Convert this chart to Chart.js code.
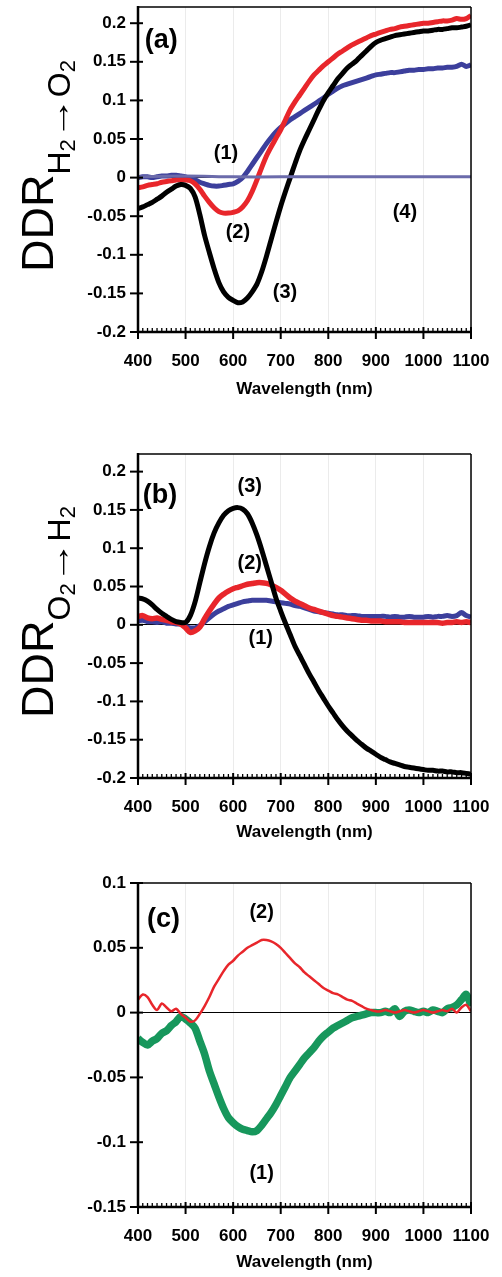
<!DOCTYPE html>
<html>
<head>
<meta charset="utf-8">
<script src="https://cdn.jsdelivr.net/npm/chart.js@4.4.0/dist/chart.umd.min.js"></script>
<style>
  body { margin: 0; background: #fff; width: 502px; height: 1277px; position: relative; overflow: hidden; }
  canvas { position: absolute; left: 0; }
</style>
</head>
<body>
<canvas id="chartA" width="502" height="420" style="top:0"></canvas>
<canvas id="chartB" width="502" height="440" style="top:420px"></canvas>
<canvas id="chartC" width="502" height="417" style="top:860px"></canvas>
<script>
// wavelength grid (nm), 10 nm step
const wavelength = [
  400, 410, 420, 430, 440, 450, 460, 470, 480, 490,
  500, 510, 520, 530, 540, 550, 560, 570, 580, 590,
  600, 610, 620, 630, 640, 650, 660, 670, 680, 690,
  700, 710, 720, 730, 740, 750, 760, 770, 780, 790,
  800, 810, 820, 830, 840, 850, 860, 870, 880, 890,
  900, 910, 920, 930, 940, 950, 960, 970, 980, 990,
  1000, 1010, 1020, 1030, 1040, 1050, 1060, 1070, 1080, 1090,
  1100
]

const xTicks = [400, 500, 600, 700, 800, 900, 1000, 1100]
const yTicksAB = [-0.2, -0.15, -0.1, -0.05, 0, 0.05, 0.1, 0.15, 0.2]
const yTicksC = [-0.15, -0.1, -0.05, 0, 0.05, 0.1]

// ---- panel (a): DDR H2 -> O2 ----
const a1 = [
  0.000, 0.001, 0.001, 0.000, 0.001, 0.002, 0.002, 0.003, 0.003, 0.002,
  0.001, -0.001, -0.003, -0.006, -0.008, -0.010, -0.011, -0.011, -0.010, -0.009,
  -0.008, -0.005, 0.000, 0.008, 0.017, 0.026, 0.035, 0.044, 0.052, 0.059,
  0.065, 0.070, 0.075, 0.079, 0.083, 0.087, 0.091, 0.095, 0.099, 0.103,
  0.108, 0.112, 0.116, 0.119, 0.121, 0.123, 0.125, 0.127, 0.129, 0.131,
  0.133, 0.134, 0.135, 0.136, 0.136, 0.137, 0.138, 0.139, 0.139, 0.140,
  0.140, 0.141, 0.141, 0.142, 0.142, 0.143, 0.143, 0.144, 0.147, 0.144,
  0.146
]
const a2 = [
  -0.013, -0.012, -0.010, -0.009, -0.008, -0.006, -0.005, -0.004, -0.003, -0.003,
  -0.003, -0.004, -0.008, -0.015, -0.024, -0.032, -0.039, -0.044, -0.046, -0.046,
  -0.045, -0.043, -0.038, -0.030, -0.018, -0.003, 0.013, 0.028, 0.040, 0.051,
  0.062, 0.075, 0.088, 0.098, 0.107, 0.116, 0.125, 0.133, 0.139, 0.145,
  0.150, 0.155, 0.160, 0.164, 0.168, 0.172, 0.175, 0.178, 0.181, 0.184,
  0.186, 0.188, 0.190, 0.192, 0.193, 0.195, 0.196, 0.197, 0.198, 0.199,
  0.200, 0.200, 0.201, 0.202, 0.203, 0.203, 0.204, 0.206, 0.205, 0.206,
  0.210
]
const a3 = [
  -0.040, -0.038, -0.035, -0.032, -0.028, -0.024, -0.019, -0.015, -0.011, -0.009,
  -0.010, -0.014, -0.025, -0.048, -0.075, -0.097, -0.118, -0.136, -0.148, -0.155,
  -0.159, -0.162, -0.161, -0.156, -0.148, -0.138, -0.122, -0.102, -0.080, -0.058,
  -0.037, -0.018, 0.000, 0.018, 0.035, 0.049, 0.062, 0.075, 0.088, 0.100,
  0.110, 0.119, 0.128, 0.135, 0.142, 0.147, 0.152, 0.158, 0.164, 0.170,
  0.175, 0.178, 0.180, 0.182, 0.184, 0.185, 0.186, 0.187, 0.188, 0.189,
  0.190, 0.190, 0.191, 0.192, 0.192, 0.193, 0.194, 0.194, 0.195, 0.196,
  0.198
]
// curve (4) is flat on zero
const a4Wavelength = [400, 500, 600, 700, 800, 900, 1000, 1100]
const a4 = [0.001, 0.002, 0.001, 0.001, 0.001, 0.001, 0.001, 0.001]

// ---- panel (b): DDR O2 -> H2 ----
const b1 = [
  0.005, 0.006, 0.004, 0.004, 0.003, 0.004, 0.002, 0.002, 0.001, 0.001,
  -0.002, -0.004, -0.004, -0.001, 0.004, 0.009, 0.014, 0.018, 0.021, 0.024,
  0.026, 0.028, 0.030, 0.031, 0.032, 0.032, 0.032, 0.032, 0.031, 0.030,
  0.029, 0.028, 0.027, 0.025, 0.024, 0.022, 0.020, 0.018, 0.017, 0.016,
  0.015, 0.014, 0.013, 0.013, 0.012, 0.012, 0.012, 0.011, 0.011, 0.011,
  0.011, 0.011, 0.011, 0.010, 0.011, 0.010, 0.010, 0.011, 0.010, 0.010,
  0.010, 0.011, 0.010, 0.011, 0.011, 0.012, 0.011, 0.012, 0.016, 0.012,
  0.010
]
const b2 = [
  0.011, 0.012, 0.009, 0.008, 0.009, 0.007, 0.006, 0.004, 0.003, 0.001,
  -0.004, -0.010, -0.008, -0.003, 0.008, 0.018, 0.027, 0.035, 0.040, 0.044,
  0.047, 0.049, 0.051, 0.053, 0.054, 0.055, 0.055, 0.054, 0.052, 0.049,
  0.045, 0.040, 0.035, 0.031, 0.028, 0.025, 0.022, 0.020, 0.018, 0.016,
  0.014, 0.012, 0.011, 0.010, 0.009, 0.008, 0.007, 0.006, 0.006, 0.005,
  0.005, 0.005, 0.004, 0.004, 0.004, 0.004, 0.003, 0.003, 0.003, 0.003,
  0.003, 0.003, 0.003, 0.003, 0.002, 0.003, 0.003, 0.004, 0.003, 0.004,
  0.003
]
const b3 = [
  0.035, 0.034, 0.031, 0.026, 0.020, 0.015, 0.011, 0.007, 0.004, 0.003,
  0.003, 0.012, 0.030, 0.055, 0.080, 0.102, 0.120, 0.133, 0.143, 0.149,
  0.152, 0.153, 0.151, 0.145, 0.133, 0.117, 0.098, 0.077, 0.056, 0.035,
  0.018, 0.002, -0.013, -0.028, -0.040, -0.052, -0.064, -0.075, -0.086, -0.096,
  -0.106, -0.115, -0.124, -0.132, -0.139, -0.145, -0.151, -0.156, -0.161, -0.165,
  -0.169, -0.173, -0.176, -0.179, -0.181, -0.183, -0.185, -0.186, -0.187, -0.188,
  -0.189, -0.190, -0.190, -0.191, -0.191, -0.192, -0.192, -0.193, -0.193, -0.194,
  -0.195
]

// ---- panel (c) ----
const c1 = [
  -0.020, -0.023, -0.025, -0.022, -0.020, -0.016, -0.014, -0.010, -0.007, -0.003,
  -0.005, -0.008, -0.012, -0.022, -0.032, -0.045, -0.055, -0.065, -0.074, -0.081,
  -0.085, -0.088, -0.090, -0.091, -0.092, -0.091, -0.087, -0.082, -0.077, -0.071,
  -0.064, -0.057, -0.050, -0.045, -0.040, -0.035, -0.031, -0.027, -0.022, -0.018,
  -0.015, -0.012, -0.010, -0.008, -0.006, -0.004, -0.003, -0.002, -0.001, 0.000,
  0.000, 0.000, 0.001, 0.000, 0.003, -0.003, 0.001, 0.002, 0.001, 0.000,
  0.001, 0.000, 0.002, 0.001, 0.000, 0.003, 0.004, 0.006, 0.010, 0.014,
  0.005
]
const c2 = [
  0.010, 0.014, 0.012, 0.006, 0.002, 0.007, 0.004, 0.001, 0.003, -0.001,
  -0.004, -0.007, -0.006, -0.001, 0.005, 0.012, 0.020, 0.026, 0.032, 0.037,
  0.040, 0.044, 0.047, 0.050, 0.052, 0.054, 0.056, 0.056, 0.055, 0.053,
  0.050, 0.046, 0.042, 0.038, 0.035, 0.031, 0.028, 0.025, 0.022, 0.019,
  0.017, 0.015, 0.014, 0.012, 0.010, 0.009, 0.007, 0.005, 0.003, 0.002,
  0.001, 0.001, 0.002, 0.001, 0.000, 0.001, 0.002, 0.001, 0.000, 0.001,
  0.002, 0.001, 0.000, 0.001, 0.002, 0.001, 0.003, 0.000, 0.004, 0.006,
  0.001
]

const RED = '#e8262b'
const BLUE = '#3c3f9c'
const SLATE = '#6b6bab'
const GREEN = '#17975c'

Chart.defaults.font.family = "'Liberation Sans', Arial, sans-serif"

function serie(xs, ys, color, width) {
  return {
    data: xs.map((w, i) => ({ x: w, y: ys[i] })),
    borderColor: color,
    borderWidth: width,
    pointRadius: 0,
    tension: 0.3,
    fill: false
  }
}

function fmt(v) {
  return String(Math.round(v * 100) / 100)
}

// frame, ticks, panel text and y title
const decor = {
  id: 'decor',
  afterDatasetsDraw(chart, args, opts) {
    const { ctx, chartArea: a, scales: { x, y } } = chart
    const line = (x1, y1, x2, y2) => { ctx.beginPath(); ctx.moveTo(x1, y1); ctx.lineTo(x2, y2); ctx.stroke() }
    ctx.save()
    ctx.strokeStyle = '#000'
    ctx.lineWidth = 1.5
    line(a.left, a.top, a.right, a.top)
    line(a.right, a.top, a.right, a.bottom)
    ctx.lineWidth = 2.5
    line(a.left, a.top - 1, a.left, a.bottom + 1)
    line(a.left - 1, a.bottom, a.right + 1, a.bottom)

    ctx.lineWidth = 2
    for (const v of opts.yTicks) {
      const py = y.getPixelForValue(v)
      line(a.left - 8, py, a.left + 5, py)
    }
    for (const v of xTicks) {
      const px = x.getPixelForValue(v)
      line(px, a.bottom - 5, px, a.bottom + 7)
    }
    ctx.lineWidth = 1.3
    for (let v = 410; v < 1100; v += 10) {
      if (v % 100 === 0) continue
      const px = x.getPixelForValue(v)
      line(px, a.bottom, px, a.bottom - 4)
    }

    // panel letter and curve numbers
    ctx.fillStyle = '#000'
    ctx.textBaseline = 'middle'
    ctx.font = "bold 27px 'Liberation Sans', Arial, sans-serif"
    ctx.textAlign = 'left'
    ctx.fillText(opts.panel.text, x.getPixelForValue(opts.panel.x), y.getPixelForValue(opts.panel.y))
    ctx.font = "bold 20px 'Liberation Sans', Arial, sans-serif"
    ctx.textAlign = 'center'
    for (const l of opts.labels) {
      ctx.fillText(l.text, x.getPixelForValue(l.x), y.getPixelForValue(l.y))
    }

    // rotated y title with subscripts
    if (opts.title) {
      ctx.save()
      ctx.translate(opts.title.base, opts.title.start)
      ctx.rotate(-Math.PI / 2)
      ctx.textAlign = 'left'
      ctx.textBaseline = 'alphabetic'
      let pos = 0
      for (const p of opts.title.parts) {
        ctx.font = p.size + "px 'Liberation Sans', Arial, sans-serif"
        const w = ctx.measureText(p.text).width
        const sx = p.len ? p.len / w : 1
        ctx.save()
        ctx.translate(pos, p.shift)
        ctx.scale(sx, 1)
        ctx.fillText(p.text, 0, 0)
        ctx.restore()
        pos += w * sx
      }
      ctx.restore()
    }
    ctx.restore()
  }
}

function makePanel(id, datasets, cfg) {
  return new Chart(document.getElementById(id), {
    type: 'line',
    data: { datasets: datasets },
    plugins: [decor],
    options: {
      responsive: false,
      animation: false,
      layout: { padding: { top: cfg.top, right: 31, left: 0, bottom: 0 } },
      plugins: {
        legend: { display: false },
        tooltip: { enabled: false },
        decor: { yTicks: cfg.yTicks, panel: cfg.panel, labels: cfg.labels, title: cfg.title }
      },
      scales: {
        x: {
          type: 'linear',
          min: 400,
          max: 1100,
          afterBuildTicks: s => { s.ticks = xTicks.map(v => ({ value: v })) },
          afterFit: s => {
            s.height = cfg.xHeight
            s.paddingLeft = 0
            s.paddingRight = 0
          },
          border: { display: false },
          grid: { color: '#ebebeb', lineWidth: 1, drawTicks: false },
          ticks: {
            padding: 19,
            color: '#000',
            maxRotation: 0,
            minRotation: 0,
            autoSkip: false,
            font: { size: 17, weight: 'bold' },
            callback: v => String(v)
          },
          title: {
            display: true,
            text: 'Wavelength (nm)',
            color: '#000',
            font: { size: 17, weight: 'bold' },
            padding: { top: 0, bottom: cfg.titlePad }
          }
        },
        y: {
          min: cfg.yMin,
          max: cfg.yMax,
          afterBuildTicks: s => { s.ticks = cfg.yTicks.map(v => ({ value: v })) },
          afterFit: s => {
            s.width = 138
            s.paddingTop = 0
            s.paddingBottom = 0
          },
          border: { display: false },
          grid: {
            drawTicks: false,
            lineWidth: 1,
            color: c => (c.tick && c.tick.value === 0 ? '#000' : 'rgba(0,0,0,0)')
          },
          ticks: {
            padding: 12,
            color: '#000',
            font: { size: 17, weight: 'bold' },
            callback: v => fmt(v)
          }
        }
      }
    }
  })
}

makePanel('chartA', [
  serie(a4Wavelength, a4, SLATE, 3),
  serie(wavelength, a3, '#000', 5),
  serie(wavelength, a2, RED, 5),
  serie(wavelength, a1, BLUE, 5)
], {
  top: 7, xHeight: 88, titlePad: 20,
  yMin: -0.2, yMax: 0.221, yTicks: yTicksAB,
  panel: { text: '(a)', x: 414, y: 0.178 },
  labels: [
    { text: '(1)', x: 585, y: 0.031 },
    { text: '(2)', x: 610, y: -0.071 },
    { text: '(3)', x: 709, y: -0.149 },
    { text: '(4)', x: 961, y: -0.045 }
  ],
  title: {
    base: 53, start: 272,
    parts: [
      { text: 'DDR', size: 45, shift: 0 },
      { text: 'H', size: 32, shift: 17 },
      { text: '2', size: 22, shift: 22 },
      { text: '\u2192', size: 32, shift: 16, len: 42 },
      { text: 'O', size: 32, shift: 17 },
      { text: '2', size: 22, shift: 22 }
    ]
  }
})

makePanel('chartB', [
  serie(wavelength, b3, '#000', 5),
  serie(wavelength, b2, RED, 5.5),
  serie(wavelength, b1, BLUE, 5)
], {
  top: 34, xHeight: 82, titlePad: 17,
  yMin: -0.2, yMax: 0.223, yTicks: yTicksAB,
  panel: { text: '(b)', x: 410, y: 0.169 },
  labels: [
    { text: '(3)', x: 635, y: 0.180 },
    { text: '(2)', x: 635, y: 0.080 },
    { text: '(1)', x: 658, y: -0.018 }
  ],
  title: {
    base: 53, start: 298,
    parts: [
      { text: 'DDR', size: 45, shift: 0 },
      { text: 'O', size: 32, shift: 17 },
      { text: '2', size: 22, shift: 22 },
      { text: '\u2192', size: 32, shift: 16, len: 42 },
      { text: 'H', size: 32, shift: 17 },
      { text: '2', size: 22, shift: 22 }
    ]
  }
})

makePanel('chartC', [
  serie(wavelength, c2, RED, 2.5),
  serie(wavelength, c1, GREEN, 7.5)
], {
  top: 23, xHeight: 70, titlePad: 4,
  yMin: -0.15, yMax: 0.1, yTicks: yTicksC,
  panel: { text: '(c)', x: 419, y: 0.072 },
  labels: [
    { text: '(2)', x: 660, y: 0.077 },
    { text: '(1)', x: 660, y: -0.124 }
  ],
  title: null
})
</script>
</body>
</html>
